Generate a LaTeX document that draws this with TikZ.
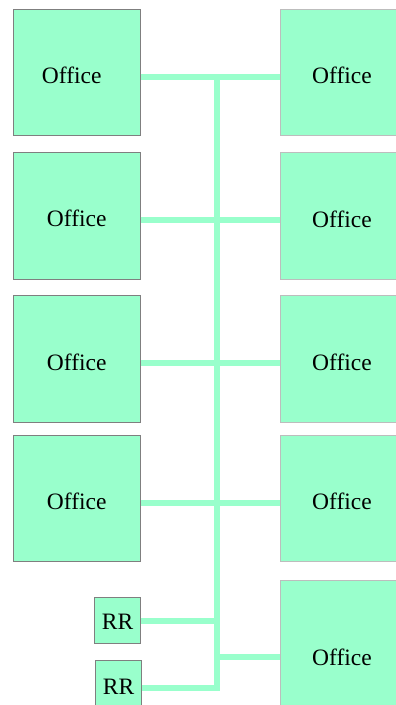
\documentclass[tikz,border=0pt]{standalone}
\usepackage{fontspec}
\setmainfont{Liberation Serif}
\usepackage{xcolor}
\definecolor{cMint}{HTML}{99FFCC}
\definecolor{cEdge}{HTML}{7F7F7F}
\definecolor{cEdgeLight}{HTML}{BDBDBD}
\usepackage{tikz}
\tikzset{
  node-office/.style={draw=cEdge,fill=cMint,line width=1pt,inner sep=0pt,
    minimum width=126.7pt,minimum height=126.5pt,align=center,
    text height=22pt,text depth=0pt,font=\fontsize{23.5}{28}\selectfont},
  node-office-r/.style={node-office,draw=cEdgeLight,minimum width=124pt},
  node-rr/.style={draw=cEdge,fill=cMint,line width=1pt,inner sep=0pt,
    minimum width=45.5pt,minimum height=45.5pt,
    text height=17pt,text depth=0pt,font=\fontsize{23.5}{28}\selectfont},
  line-bus/.style={draw=cMint,line width=6pt},
}

\begin{document}
\begin{tikzpicture}[x=1pt,y=-1pt]
  \useasboundingbox (0,0) rectangle (396,705);
  % left column
  \node[node-office] (l1) at (76.7,72.3)  {\hspace*{-10pt}Office};
  \node[node-office] (l2) at (76.7,215.9) {Office};
  \node[node-office] (l3) at (76.7,359.0) {Office};
  \node[node-office] (l4) at (76.7,498.7) {Office};
  \node[node-rr]     (rr1) at (117.5,620.5) {RR};
  \node[node-rr,minimum height=52pt] (rr2) at (118.5,686) {RR};
  % right column
  \node[node-office-r] (r1) at (342,72.5)  {Office};
  \node[node-office-r] (r2) at (342,216.0) {Office};
  \node[node-office-r] (r3) at (342,359.2) {Office};
  \node[node-office-r] (r4) at (342,498.7) {Office};
  \node[node-office-r,minimum height=148pt] (r5) at (342,654) {Office};
  % taps on the bus
  \coordinate (b1) at (216.7,77);
  \coordinate (b2) at (216.7,220);
  \coordinate (b3) at (216.7,362.5);
  \coordinate (b4) at (216.7,503);
  \coordinate (b5) at (216.7,620.5);
  \coordinate (b6) at (216.7,657);
  \coordinate (b7) at (216.7,687.5);
  \draw[line-bus] (l1.east |- b1) -- (r1.west |- b1);
  \draw[line-bus] (l2.east |- b2) -- (r2.west |- b2);
  \draw[line-bus] (l3.east |- b3) -- (r3.west |- b3);
  \draw[line-bus] (l4.east |- b4) -- (r4.west |- b4);
  \draw[line-bus] (rr1.east) -- (b5);
  \draw[line-bus] (b6) -- (r5.west |- b6);
  \draw[line-bus] (b1) -- (b7) -- (rr2.east |- b7);
\end{tikzpicture}
\end{document}
